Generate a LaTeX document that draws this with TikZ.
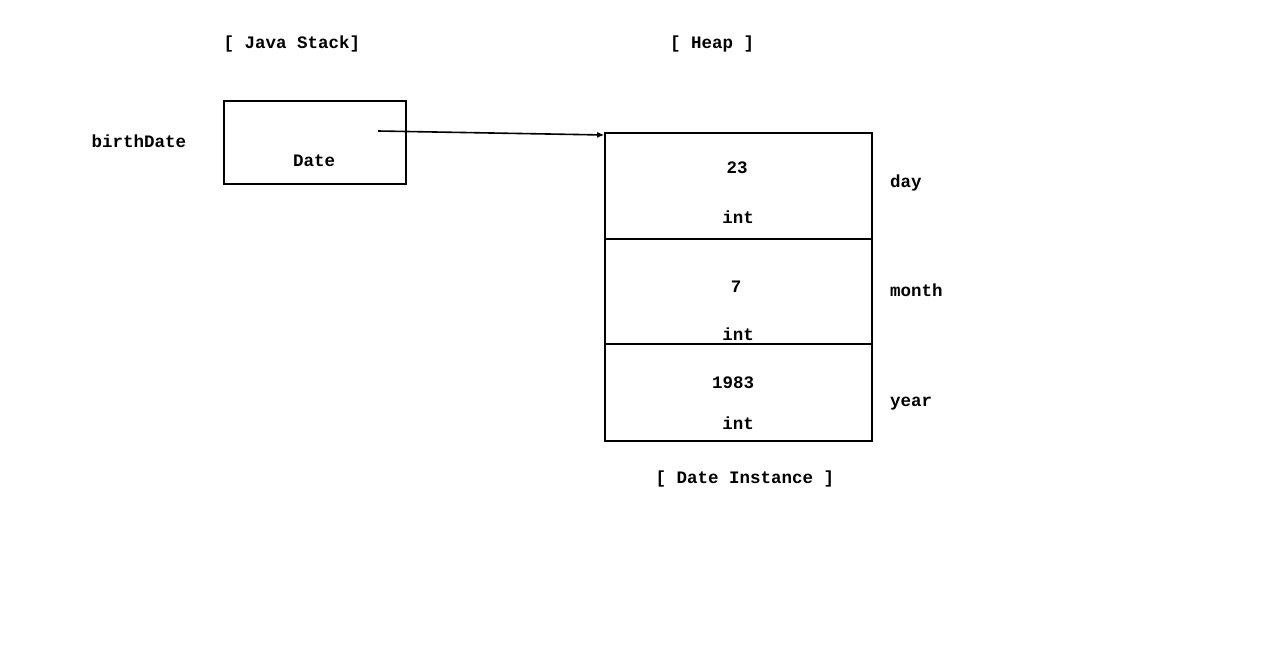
\documentclass[tikz,border=0pt]{standalone}
\usepackage{fontspec}
\setmonofont{Liberation Mono}
\usetikzlibrary{arrows.meta}
\begin{document}
\begin{tikzpicture}[x=1pt,y=-1pt,
  lbl/.style={inner sep=0pt,font=\ttfamily\bfseries\fontsize{17.5}{20}\selectfont},
  cell/.style={draw,line width=1.6pt,inner sep=0pt}]
\useasboundingbox[fill=white] (0,0) rectangle (1266,671);
% stack frame
\node[lbl] (stackT) at (292,44) {[ Java Stack]};
\node[lbl] (heapT) at (712,44) {[ Heap ]};
\node[cell,minimum width=182pt,minimum height=83pt] (ref) at (315,142.5) {};
\node[lbl] (var) at (139,141) {birthDate};
\node[lbl] (reftype) at (314,161) {Date};
\coordinate (refdot) at (378,131);
% heap object
\node[cell,minimum width=267pt,minimum height=106pt] (fday) at (738.5,186) {};
\node[cell,minimum width=267pt,minimum height=105pt] (fmonth) at (738.5,291.5) {};
\node[cell,minimum width=267pt,minimum height=97pt] (fyear) at (738.5,392.5) {};
\node[lbl] (v1) at (737,168) {23};
\node[lbl] (t1) at (738,217) {int};
\node[lbl] (v2) at (736,287) {7};
\node[lbl] (t2) at (738,334) {int};
\node[lbl] (v3) at (733,383) {1983};
\node[lbl] (t3) at (738,423) {int};
\node[lbl,anchor=west] (n1) at (890,183) {day};
\node[lbl,anchor=west] (n2) at (890,290) {month};
\node[lbl,anchor=west] (n3) at (890,404) {year};
\node[lbl] (inst) at (745,479) {[ Date Instance ]};
\draw[line width=1.6pt,-{Latex[length=7pt,width=6pt]}] (refdot) -- (fday.north west |- 0,135);
\end{tikzpicture}
\end{document}
